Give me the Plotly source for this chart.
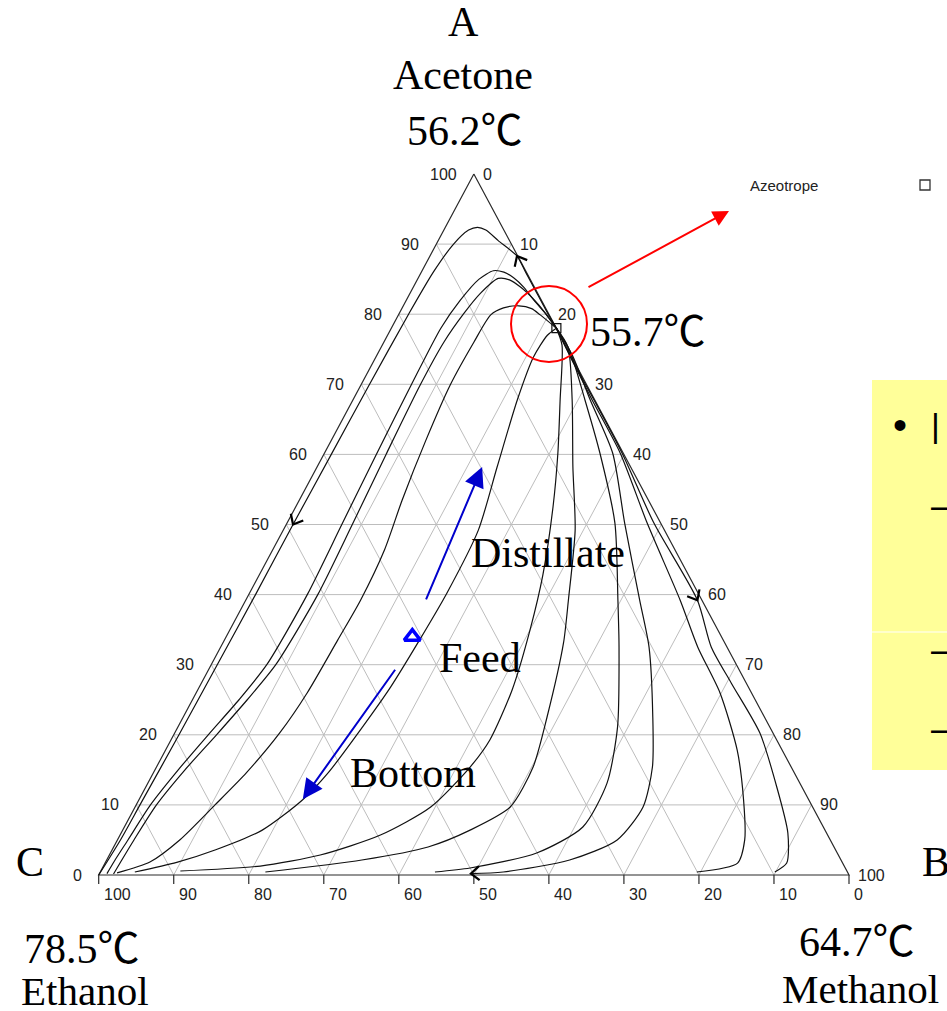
import numpy as np
import plotly.graph_objects as go

# ---------------------------------------------------------------
# Residue curve map, acetone (A) / methanol (B) / ethanol (C).
# Every curve is given as acetone % and methanol % along its path.
# ---------------------------------------------------------------
curve_b_acetone = [0, 5, 10, 20, 30, 40, 50, 60, 70, 80, 86, 90, 92, 92.4, 92, 90.5, 88.3, 86, 83, 80.5, 78]
curve_b_methanol = [0, 0.4, 0.5, 0.7, 0.8, 0.9, 0.9, 1.0, 1.1, 1.3, 1.6, 2.3, 3.3, 4.3, 5.6, 8.0, 11.6, 13.9, 16.9, 19.4, 22]

curve_c_acetone = [0.2, 2, 5, 10, 15, 20, 25, 30, 40, 50, 60, 70, 78, 82, 85, 86.2, 86.0, 85.2, 83.8, 82.0, 80.1, 78]
curve_c_methanol = [1.0, 1.1, 1.4, 1.9, 3.1, 4.6, 6.2, 7.4, 7.8, 7.4, 7.0, 6.7, 6.6, 7.2, 8.2, 9.5, 11.0, 12.7, 14.8, 17.0, 19.5, 22]

curve_d_acetone = [0.15, 2, 5, 10, 15, 20, 25, 30, 40, 50, 60, 70, 76, 80, 83, 85.1, 84.9, 83.8, 82.2, 80.2, 78]
curve_d_methanol = [1.9, 2.0, 2.2, 2.7, 4.0, 5.7, 7.3, 8.6, 9.2, 8.8, 8.3, 7.9, 8.0, 8.6, 9.4, 10.7, 12.3, 14.4, 16.8, 19.4, 22]

curve_e_acetone = [0.3, 1.85, 5.0, 10.0, 14.6, 20.3, 26.0, 33.5, 39.2, 46.4, 53.5, 62, 69.9, 76, 79.9, 80.9, 81.2, 80.8, 79.9, 78]
curve_e_methanol = [2.3, 5.9, 8.3, 10.5, 12.4, 14.0, 14.8, 15.1, 15.3, 14.9, 13.7, 12.6, 11.9, 12.0, 12.3, 13.5, 15.4, 17.3, 18.9, 22]

feed_curve_acetone = [0.43, 1.8, 3.6, 6.4, 10.7, 14.6, 21.1, 26.8, 33.5, 40.2, 49.2, 58.2, 67.8, 73.9, 77.0, 78]
feed_curve_methanol = [4.6, 9.5, 13.8, 18.6, 21.8, 23.3, 24.6, 25.5, 26.0, 26.3, 26.0, 24.0, 21.9, 21.0, 21.3, 22]

curve_r1_acetone = [78, 75.6, 67.8, 60.2, 52.5, 42.8, 35.0, 26.4, 19.3, 15.4, 9.7, 5.7, 2.85, 1.28, 0.57]
curve_r1_methanol = [22, 23.95, 27.6, 31.1, 34.3, 37.8, 40.0, 41.9, 42.5, 41.8, 39.4, 34.7, 28.1, 20.9, 10.6]

curve_r2_acetone = [78, 75.3, 67.8, 58.2, 49.2, 39.2, 33.1, 22.5, 15.4, 9.7, 6.4, 4.0, 2.14, 0.43]
curve_r2_methanol = [22, 24.9, 29.2, 34.1, 38.9, 43.0, 45.4, 48.5, 50.2, 50.0, 46.3, 41.9, 34.0, 22.0]

curve_r3_acetone = [78, 74.9, 67.8, 60.2, 50.2, 39.2, 32.5, 21.1, 13.1, 6.85, 3.14, 1.0, 0.43]
curve_r3_methanol = [22, 25.3, 30.9, 36.7, 43.7, 49.6, 53.1, 58.6, 61.2, 61.1, 56.8, 49.0, 44.6]

curve_r4_acetone = [78, 74.2, 67.8, 60.2, 50.2, 39.2, 32.5, 22.5, 15.4, 9.7, 5.0, 2.14, 0.43, 0.2]
curve_r4_methanol = [22, 26.0, 31.6, 38.4, 45.0, 52.5, 57.1, 62.6, 66.1, 67.7, 66.6, 61.7, 53.7, 49.5]

curve_r5_acetone = [78, 73.5, 67.8, 60.2, 50.2, 39.2, 32.5, 26.0, 17.8, 10.7, 5.0, 1.7, 0.43]
curve_r5_methanol = [22, 26.3, 31.85, 39.4, 48.0, 57.9, 63.6, 69.8, 76.2, 80.6, 83.6, 84.3, 79.5]

curve_r6_acetone = [78, 72.75, 67.8, 60.2, 50.2, 39.2, 32.5, 27.4, 20.25, 12.55, 6.0, 1.7, 0.43]
curve_r6_methanol = [22, 27.1, 32.1, 39.65, 48.9, 60.2, 65.4, 70.6, 78.0, 84.1, 88.85, 90.85, 89.9]

# azeotrope and column streams (acetone %, methanol %)
azeotrope = (78.0, 22.0)
feed = (34.0, 24.8)
distillate_arrow = [(39.1, 24.0), (58.2, 22.0)]
bottom_arrow = [(29.5, 24.9), (10.8, 21.8)]

grid_levels = [10, 20, 30, 40, 50, 60, 70, 80, 90]
tick_values = [0, 10, 20, 30, 40, 50, 60, 70, 80, 90, 100]

# ---------------------------------------------------------------
W, H = 947, 1011
X_LEFT, X_RIGHT = 98.7, 849.0   # page x of the C and B corners
Y_BASE, Y_APEX = 875.0, 174.0   # page y of the C-B side and the A corner
PAD = 3.0
SX = (X_RIGHT - X_LEFT) / 100.0
SY = (Y_BASE - Y_APEX) / 100.0

SERIF = "Liberation Serif, Times New Roman, serif"
SANS = "Liberation Sans, Arial, sans-serif"
DEG = "<span style='font-family:Noto Sans CJK KR'>℃</span>"


def to_xy(a, b):
    a = np.asarray(a, float)
    b = np.asarray(b, float)
    return b + a / 2.0, a


def to_page(x, y):
    return X_LEFT + x * SX, Y_BASE - y * SY


def from_page(u, v):
    return (u - X_LEFT) / SX, (Y_BASE - v) / SY


def paper(u, v):
    return u / W, 1.0 - v / H


def chevron(acet, meth, i, j, arm=11.0, spread=40.0):
    """Open arrowhead at point i of a curve, pointing away from point j."""
    x, y = to_xy(acet, meth)
    tx, ty = to_page(x[i], y[i])
    fx, fy = to_page(x[j], y[j])
    d = np.array([tx - fx, ty - fy])
    d /= np.hypot(*d)
    arms = []
    for s in (spread, -spread):
        r = np.radians(s)
        rx = d[0] * np.cos(r) - d[1] * np.sin(r)
        ry = d[0] * np.sin(r) + d[1] * np.cos(r)
        arms.append((tx - arm * rx, ty - arm * ry))
    seq = [arms[0], (tx, ty), arms[1]]
    pts = [from_page(u, v) for u, v in seq]
    return [p[0] for p in pts] + [None], [p[1] for p in pts] + [None]


fig = go.Figure()

# light composition grid
gx, gy = [], []
for k in grid_levels:
    for (a0, b0), (a1, b1) in [((k, 0), (k, 100 - k)),
                               ((0, k), (100 - k, k)),
                               ((0, 100 - k), (100 - k, 0))]:
        xs, ys = to_xy([a0, a1], [b0, b1])
        gx += list(xs) + [None]
        gy += list(ys) + [None]
fig.add_trace(go.Scatter(x=gx, y=gy, mode="lines", hoverinfo="skip",
                         line=dict(color="#bdbdbd", width=1)))

# triangle outline
ox, oy = to_xy([100, 0, 0, 100], [0, 100, 0, 0])
fig.add_trace(go.Scatter(x=ox, y=oy, mode="lines", hoverinfo="skip",
                         line=dict(color="#2a2a2a", width=1.2)))

# ticks below the C-B side
tx_, ty_ = [], []
for t in tick_values:
    tx_ += [t, t, None]
    ty_ += [0, -9.0 / SY, None]
fig.add_trace(go.Scatter(x=tx_, y=ty_, mode="lines", hoverinfo="skip",
                         line=dict(color="#2a2a2a", width=1.2)))

# residue curves
curves = [
    (curve_b_acetone, curve_b_methanol),
    (curve_c_acetone, curve_c_methanol),
    (curve_d_acetone, curve_d_methanol),
    (curve_e_acetone, curve_e_methanol),
    (feed_curve_acetone, feed_curve_methanol),
    (curve_r1_acetone, curve_r1_methanol),
    (curve_r2_acetone, curve_r2_methanol),
    (curve_r3_acetone, curve_r3_methanol),
    (curve_r4_acetone, curve_r4_methanol),
    (curve_r5_acetone, curve_r5_methanol),
    (curve_r6_acetone, curve_r6_methanol),
]
for acet, meth in curves:
    x, y = to_xy(acet, meth)
    fig.add_trace(go.Scatter(x=x, y=y, mode="lines", hoverinfo="skip",
                             line=dict(color="#111111", width=1.2,
                                       shape="spline", smoothing=0.7)))

# direction arrowheads on the curves
cx, cy = [], []
for acet, meth, i, j in [
    (curve_b_acetone, curve_b_methanol, 16, 17),
    (curve_b_acetone, curve_b_methanol, 6, 7),
    (curve_r6_acetone, curve_r6_methanol, 5, 4),
    (curve_r4_acetone, curve_r4_methanol, 13, 12),
]:
    a, b = chevron(acet, meth, i, j)
    cx += a
    cy += b
fig.add_trace(go.Scatter(x=cx, y=cy, mode="lines", hoverinfo="skip",
                         line=dict(color="#000000", width=2.2)))

# azeotrope point
ax_, ay_ = to_xy([azeotrope[0]], [azeotrope[1]])
fig.add_trace(go.Scatter(x=ax_, y=ay_, mode="markers", hoverinfo="skip",
                         marker=dict(symbol="square-open", size=9,
                                     color="#111111", line=dict(width=1.2))))

# feed point
fx_, fy_ = to_xy([feed[0]], [feed[1]])
fig.add_trace(go.Scatter(x=fx_, y=fy_, mode="markers", hoverinfo="skip",
                         marker=dict(symbol="triangle-up-open", size=14,
                                     color="#0000ff", line=dict(width=3.5, color="#0000ff"))))

annotations = []

# distillate / bottom arrows
for (ta, tb), (ha, hb) in [distillate_arrow, bottom_arrow]:
    (tx0,), (ty0,) = to_xy([ta], [tb])
    (hx0,), (hy0,) = to_xy([ha], [hb])
    annotations.append(dict(x=hx0, y=hy0, ax=tx0, ay=ty0, xref="x", yref="y",
                            axref="x", ayref="y", text="", showarrow=True,
                            arrowhead=2, arrowsize=2.0, arrowwidth=2,
                            arrowcolor="#0000cc"))

# tick labels on the three sides
tick_font = dict(family=SANS, size=16, color="#222222")
for t in tick_values:
    lx, ly = to_xy([t], [0])
    annotations.append(dict(x=lx[0], y=ly[0], xref="x", yref="y", text=str(t),
                            showarrow=False, xanchor="right", yanchor="middle",
                            xshift=-15, font=tick_font))
    rx, ry = to_xy([t], [100 - t])
    annotations.append(dict(x=rx[0], y=ry[0], xref="x", yref="y", text=str(100 - t),
                            showarrow=False, xanchor="left", yanchor="middle",
                            xshift=7, font=tick_font))
    annotations.append(dict(x=t, y=0, xref="x", yref="y", text=str(100 - t),
                            showarrow=False, xanchor="left", yanchor="middle",
                            xshift=3, yshift=-19, font=tick_font))


def big_label(text, u, v, size=42):
    px_, py_ = paper(u, v)
    annotations.append(dict(x=px_, y=py_, xref="paper", yref="paper", text=text,
                            showarrow=False, xanchor="center", yanchor="middle",
                            font=dict(family=SERIF, size=size, color="#000000")))


big_label("A", 463, 22)
big_label("Acetone", 463, 75)
big_label("56.2" + DEG, 465, 127)
big_label("C", 30, 862)
big_label("B", 936, 862)
big_label("78.5" + DEG, 82, 944)
big_label("Ethanol", 85, 991, 41)
big_label("64.7" + DEG, 857, 937)
big_label("Methanol", 860, 989, 41)
big_label("55.7" + DEG, 648, 328)
big_label("Distillate", 548, 553)
big_label("Feed", 480, 658)
big_label("Bottom", 413, 773)

# azeotrope key
kx, ky = paper(748, 185)
annotations.append(dict(x=kx, y=ky, xref="paper", yref="paper", text="Azeotrope",
                        showarrow=False, xanchor="left", yanchor="middle",
                        font=dict(family=SANS, size=15, color="#222222")))

# red pointer from the circled azeotrope to the key
hx, hy = paper(729, 211)
annotations.append(dict(x=hx, y=hy, xref="paper", yref="paper", text="",
                        showarrow=True, ax=587 - 729, ay=288 - 211,
                        arrowhead=2, arrowsize=1.6, arrowwidth=2, arrowcolor="#ff0000"))

# side note box text
for txt, u, v, size in [("•", 900, 425, 40), ("|", 935, 425, 34),
                        ("–", 941, 505, 36), ("–", 941, 649, 36), ("–", 941, 728, 36)]:
    pu, pv = paper(u, v)
    annotations.append(dict(x=pu, y=pv, xref="paper", yref="paper", text=txt,
                            showarrow=False, xanchor="center", yanchor="middle",
                            font=dict(family=SANS, size=size, color="#000000")))

shapes = []
# circle around the azeotrope
c0 = paper(511, 362)
c1 = paper(587, 286)
shapes.append(dict(type="circle", xref="paper", yref="paper", x0=c0[0], y0=c0[1],
                   x1=c1[0], y1=c1[1], line=dict(color="#ff0000", width=2)))
# key symbol
s0 = paper(920, 190)
s1 = paper(930, 180)
shapes.append(dict(type="rect", xref="paper", yref="paper", x0=s0[0], y0=s0[1],
                   x1=s1[0], y1=s1[1], line=dict(color="#333333", width=1.3)))
# yellow note box
b0 = paper(872, 770)
b1 = paper(950, 380)
shapes.append(dict(type="rect", xref="paper", yref="paper", x0=b0[0], y0=b0[1],
                   x1=b1[0], y1=b1[1], fillcolor="#ffff99", line=dict(width=0),
                   layer="below"))
l0 = paper(872, 632)
l1 = paper(950, 632)
shapes.append(dict(type="line", xref="paper", yref="paper", x0=l0[0], y0=l0[1],
                   x1=l1[0], y1=l1[1], line=dict(color="#ffffff", width=1),
                   layer="below"))

fig.update_layout(
    width=W, height=H,
    margin=dict(l=0, r=0, t=0, b=0, pad=0),
    paper_bgcolor="white", plot_bgcolor="rgba(0,0,0,0)",
    showlegend=False,
    xaxis=dict(range=[-PAD, 100 + PAD], visible=False, fixedrange=True,
               domain=[(X_LEFT - PAD * SX) / W, (X_RIGHT + PAD * SX) / W]),
    yaxis=dict(range=[-PAD, 100 + PAD], visible=False, fixedrange=True,
               domain=[1 - (Y_BASE + PAD * SY) / H, 1 - (Y_APEX - PAD * SY) / H]),
    annotations=annotations,
    shapes=shapes,
)

fig.write_html("out.html")
